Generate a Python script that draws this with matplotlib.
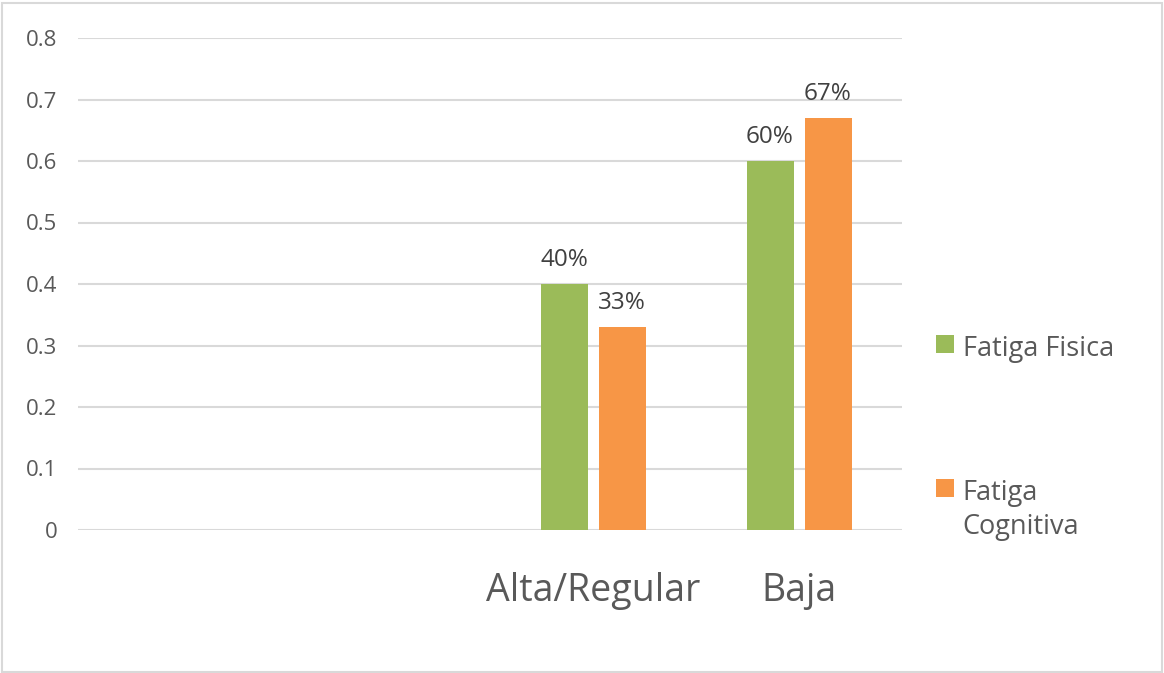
import matplotlib
matplotlib.use("Agg")
import matplotlib.pyplot as plt
from matplotlib.patches import Rectangle, Patch

categories = ["", "", "Alta/Regular", "Baja"]
series_names = ["Fatiga Fisica", "Fatiga\nCognitiva"]
fisica = [None, None, 0.40, 0.60]
cognitiva = [None, None, 0.33, 0.67]
fisica_labels = ["", "", "40%", "60%"]
cognitiva_labels = ["", "", "33%", "67%"]
yticks = [0, 0.1, 0.2, 0.3, 0.4, 0.5, 0.6, 0.7, 0.8]
ytick_labels = ["0", "0.1", "0.2", "0.3", "0.4", "0.5", "0.6", "0.7", "0.8"]

GREEN = "#9BBB59"
ORANGE = "#F79646"
TEXT = "#595959"
GRID = "#D9D9D9"
FONT = ["Open Sans", "DejaVu Sans"]
plt.rcParams["font.family"] = FONT

W, H = 1164, 673
fig = plt.figure(figsize=(W / 100, H / 100), dpi=100)
fig.patch.set_facecolor("white")
ax = fig.add_axes([78 / W, 1 - 530 / H, (902 - 78) / W, (530 - 38) / H])

bw = 47 / 206
off = 29 / 206
xs = list(range(len(categories)))
for i, (a, b) in enumerate(zip(fisica, cognitiva)):
    if a is not None:
        ax.bar(i - off, a, width=bw, color=GREEN, zorder=3)
        ax.text(i - off, a + 0.02, fisica_labels[i], ha="center", va="bottom",
                fontsize=17.5, color="#404040")
    if b is not None:
        ax.bar(i + off, b, width=bw, color=ORANGE, zorder=3)
        ax.text(i + off, b + 0.02, cognitiva_labels[i], ha="center", va="bottom",
                fontsize=17.5, color="#404040")

ax.set_xlim(-0.5, len(categories) - 0.5)
ax.set_ylim(0, 0.8)
ax.set_yticks(yticks)
ax.set_yticklabels(ytick_labels, fontsize=16, color=TEXT)
ax.set_xticks(xs)
ax.set_xticklabels(categories, fontsize=27, color=TEXT)
ax.tick_params(axis="y", length=0, pad=15)
ax.tick_params(axis="x", length=0, pad=30)
ax.yaxis.grid(True, color=GRID, linewidth=1.5, zorder=0)
for s in ax.spines.values():
    s.set_visible(False)

handles = [Patch(facecolor=GREEN), Patch(facecolor=ORANGE)]
leg = fig.legend(handles, series_names, loc="center left",
                 bbox_to_anchor=(912 / W, 1 - 438 / H), frameon=False,
                 fontsize=19.5, labelcolor=TEXT, handlelength=0.65,
                 handleheight=0.65, handletextpad=0.32, labelspacing=4.3)
for t in leg.get_texts():
    t.set_linespacing(1.3)
for col in leg._legend_handle_box.get_children():
    for item in col.get_children():
        item.align = "top"

fig.add_artist(Rectangle((2 / W, 1 / H), (W - 4) / W, (H - 4) / H,
                         transform=fig.transFigure, fill=False,
                         edgecolor=GRID, linewidth=1.5))

fig.savefig("out.png", dpi=100)
